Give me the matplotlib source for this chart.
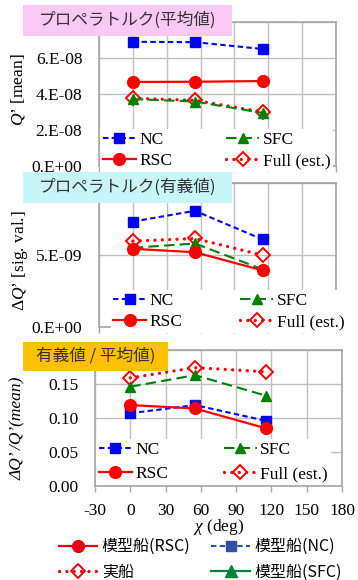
import matplotlib
matplotlib.use("Agg")
import matplotlib.pyplot as plt
from matplotlib.lines import Line2D
from matplotlib.patches import Rectangle
from matplotlib.ticker import FuncFormatter

plt.rcParams["font.family"] = ["Liberation Serif", "DejaVu Serif"]
plt.rcParams["mathtext.fontset"] = "custom"
plt.rcParams["mathtext.rm"] = "Liberation Serif"
plt.rcParams["mathtext.it"] = "Liberation Serif:italic"
plt.rcParams["axes.unicode_minus"] = False

chi = [0, 55, 115]

# mean torque
mean_nc = [6.9e-8, 6.88e-8, 6.5e-8]
mean_rsc = [4.67e-8, 4.68e-8, 4.72e-8]
mean_sfc = [3.72e-8, 3.58e-8, 2.95e-8]
mean_full = [3.76e-8, 3.65e-8, 3.0e-8]

# significant torque
sig_nc = [7.32e-9, 8.07e-9, 6.08e-9]
sig_rsc = [5.43e-9, 5.19e-9, 3.93e-9]
sig_sfc = [5.5e-9, 5.8e-9, 4.0e-9]
sig_full = [5.96e-9, 6.15e-9, 4.98e-9]

# ratio sig / mean
rat_nc = [0.107, 0.119, 0.096]
rat_rsc = [0.119, 0.114, 0.085]
rat_sfc = [0.146, 0.163, 0.133]
rat_full = [0.159, 0.174, 0.168]

series_labels = ["NC", "RSC", "SFC", "Full (est.)"]
bottom_labels = ["模型船(RSC)", "実船", "模型船(NC)", "模型船(SFC)"]
titles = ["プロペラトルク(平均値)", "プロペラトルク(有義値)", "有義値 / 平均値)"]
x_ticks = [-30, 0, 30, 60, 90, 120, 150, 180]

W, H = 358, 580
fig = plt.figure(figsize=(W / 100, H / 100), dpi=100)


def px_axes(l, t, r, b):
    return fig.add_axes([l / W, 1 - b / H, (r - l) / W, (b - t) / H])


def sci_fmt(top):
    def f(v, pos):
        if v >= top * 0.999:
            return ""  # hidden under the title box
        m, e = f"{v:.0E}".split("E")
        return f"{m}.E{e}"
    return FuncFormatter(f)


def draw(ax, nc, rsc, sfc, full):
    h_full, = ax.plot(chi, full, color="red", lw=2.4, dashes=(0.01, 2.2),
                      dash_capstyle="round", marker="D", ms=7.5, mfc="none",
                      mec="red", mew=1.4, zorder=3)
    h_sfc, = ax.plot(chi, sfc, color="#008000", lw=1.5, dashes=(5, 2.5),
                     marker="^", ms=7.5, zorder=4)
    h_nc, = ax.plot(chi, nc, color="#0000ff", lw=1.5, dashes=(2.6, 1.6),
                    marker="s", ms=7, zorder=5)
    h_rsc, = ax.plot(chi, rsc, color="red", lw=1.6, marker="o", ms=8.5,
                     zorder=6)
    return [h_nc, h_rsc, h_sfc, h_full]


def style(ax, ymax, yticks, fmt, show_x):
    ax.set_xlim(-30, 180)
    ax.set_ylim(0, ymax)
    ax.set_xticks(x_ticks)
    ax.set_yticks(yticks)
    ax.yaxis.set_major_formatter(fmt)
    ax.grid(True, color="#c0c0c0", lw=1.0)
    ax.set_axisbelow(True)
    for s in ax.spines.values():
        s.set_color("#a6a6a6")
        s.set_linewidth(1.2)
    ax.tick_params(axis="y", length=0, pad=12, labelsize=12.5)
    ax.tick_params(axis="x", length=4, color="#a6a6a6", width=1.0,
                   pad=8, labelsize=12.5, labelbottom=show_x)


def inner_legend(ax, handles, x0, y0, colsp, lsp):
    leg = ax.legend(handles, series_labels, ncol=2, loc="lower left",
                    bbox_to_anchor=(x0, y0), frameon=True, fancybox=False,
                    framealpha=1, edgecolor="none", facecolor="white",
                    fontsize=12.5, handlelength=1.9, handletextpad=0.2,
                    columnspacing=colsp, labelspacing=lsp, borderpad=0.15,
                    borderaxespad=0)
    leg.set_zorder(10)


ax1 = px_axes(99, 22, 336, 166)
h = draw(ax1, mean_nc, mean_rsc, mean_sfc, mean_full)
style(ax1, 8e-8, [0, 2e-8, 4e-8, 6e-8, 8e-8], sci_fmt(8e-8), False)
ax1.set_ylabel(r"$Q’$ [mean]", fontsize=12.5)
ax1.yaxis.set_label_coords(-0.305, 0.53)
inner_legend(ax1, h, 0.005, -0.04, 3.1, 0.3)

ax2 = px_axes(99, 183, 336, 327)
h = draw(ax2, sig_nc, sig_rsc, sig_sfc, sig_full)
style(ax2, 1e-8, [0, 5e-9, 1e-8], sci_fmt(1e-8), False)
ax2.set_ylabel(r"$\mathit{\Delta Q’}$ [sig. val.]", fontsize=12.5)
ax2.yaxis.set_label_coords(-0.29, 0.46)
inner_legend(ax2, h, 0.05, -0.04, 3.3, 0.3)

ax3 = px_axes(95, 350, 342, 486)
h = draw(ax3, rat_nc, rat_rsc, rat_sfc, rat_full)
style(ax3, 0.2, [0, 0.05, 0.1, 0.15, 0.2],
      FuncFormatter(lambda v, p: "" if v > 0.199 else f"{v:.2f}"), True)
ax3.set_ylabel("ΔQ’ /Q’(mean)", fontsize=12.5, fontstyle="italic")
ax3.yaxis.set_label_coords(-0.28, 0.425)
ax3.set_xlabel(r"$\chi$ (deg)", fontsize=12.5, labelpad=-1)
inner_legend(ax3, h, 0.005, 0.01, 3.2, 0.45)

# title boxes
boxes = [(23, 5, 232, 36, "#f9c8f4"), (23, 172, 232, 203, "#c8f6f8"),
         (23, 342, 168, 371, "#ffc000")]
for (l, t, r, b, c), txt in zip(boxes, titles):
    fig.add_artist(Rectangle((l / W, 1 - b / H), (r - l) / W, (b - t) / H,
                             transform=fig.transFigure, facecolor=c,
                             edgecolor="none", zorder=20))
    fig.text((l + r) / 2 / W, 1 - (t + b) / 2 / H, txt, ha="center",
             va="center", fontsize=12, color="#333333",
             family=["Noto Sans CJK JP", "DejaVu Sans"], zorder=21)

# overall legend
proxies = [
    Line2D([], [], color="#e60012", lw=1.6, marker="o", ms=8.5),
    Line2D([], [], color="#e60012", lw=2.4, dashes=(0.01, 2.2),
           dash_capstyle="round", marker="D", ms=7.5, mfc="none", mew=1.4),
    Line2D([], [], color="#2f4fa8", lw=1.5, dashes=(2.6, 1.6), marker="s", ms=7),
    Line2D([], [], color="#00843c", lw=1.6, marker="^", ms=8),
]
fig.legend(proxies, bottom_labels, ncol=2, loc="lower left",
           bbox_to_anchor=(50 / W, -0.017), frameon=False,
           prop={"family": ["Noto Sans CJK JP", "DejaVu Sans"], "size": 11.5},
           handlelength=2.4, handletextpad=0.3, columnspacing=1.3,
           labelspacing=0.55, borderpad=0.05)

fig.savefig("out.png", dpi=100)
